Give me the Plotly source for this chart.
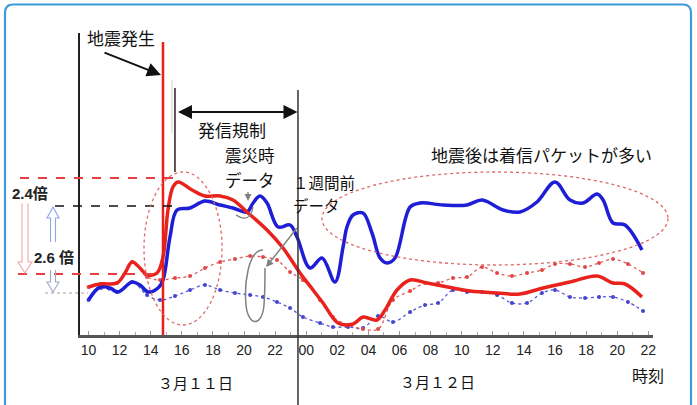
import plotly.graph_objects as go

W, H = 697, 405

# ---------------- data (x = hours since 3/11 00:00, y = relative traffic) ----------------
quake_in_t = [10.0, 10.74, 11.38, 11.90, 12.80, 13.31, 13.83, 14.47, 14.79, 15.24,
              15.69, 16.53, 17.49, 18.46, 19.29, 20.19, 20.58, 21.03, 21.48, 22.19,
              22.96, 23.41, 24.24, 25.02, 25.85, 26.37, 26.62, 27.01, 27.65, 28.23,
              28.75, 29.20, 29.71, 30.68, 31.32, 32.80, 34.34, 35.31, 36.66, 37.75,
              38.84, 40.00, 40.96, 41.80, 42.70, 43.09, 43.73, 44.50, 45.59]
quake_in_v = [35, 48, 47, 43, 53, 50, 43, 47, 55, 98,
              125, 127, 134, 130, 127, 123, 132, 139, 132, 108,
              110, 98, 67, 77, 53, 88, 108, 120, 122, 102,
              77, 72, 77, 128, 132, 130, 130, 135, 125, 123,
              133, 153, 135, 132, 141, 135, 112, 110, 85]

quake_out_t = [10.0, 10.74, 11.83, 12.35, 12.80, 13.31, 13.76, 14.41, 14.79, 15.11,
               15.43, 15.76, 16.66, 17.49, 18.46, 19.29, 20.19, 21.48, 22.51, 23.60,
               24.44, 25.08, 26.05, 27.01, 27.65, 28.55, 29.07, 29.84, 30.68, 31.77,
               33.44, 34.53, 36.27, 37.75, 39.23, 40.96, 42.70, 43.73, 44.50, 45.59]
quake_out_v = [48, 51, 52, 62, 73, 67, 60, 62, 78, 125,
               148, 153, 145, 139, 139, 135, 123, 105, 87, 62,
               45, 32, 12, 11, 18, 15, 25, 45, 55, 52,
               47, 44, 42, 41, 47, 53, 59, 52, 51, 38]

week_t = [10.0, 10.8, 11.83, 12.8, 13.76, 14.60, 15.56, 16.53, 17.49, 18.46,
          19.42, 20.39, 21.22, 22.12, 22.96, 23.79, 24.89, 25.72, 26.69, 27.65,
          28.62, 29.58, 30.68, 31.64, 32.48, 33.44, 34.34, 35.31, 36.27, 37.23,
          38.20, 39.16, 40.00, 40.96, 41.93, 42.83, 43.73, 44.69, 45.66]
week_out_v = [48, 51, 52, 73, 58, 55, 57, 59, 67, 73,
              76, 79, 78, 75, 63, 55, 35, 18, 10, 6,
              6, 35, 44, 52, 52, 57, 58, 68, 62, 59,
              62, 65, 71, 71, 68, 72, 76, 71, 62]
week_in_v = [35, 47, 43, 53, 40, 35, 39, 45, 50, 45,
             42, 40, 38, 33, 27, 18, 12, 8, 8, 7,
             19, 13, 23, 30, 32, 45, 43, 43, 40, 32,
             32, 42, 45, 38, 37, 38, 38, 33, 24]

tick_hours = list(range(10, 47, 2))
tick_text = ["10", "12", "14", "16", "18", "20", "22", "00", "02", "04",
             "06", "08", "10", "12", "14", "16", "18", "20", "22"]

QUAKE_T = 14.79       # earthquake
REG_START_T = 15.56   # start of outgoing-call regulation
REG_END_T = 23.47     # end of regulation

JP = "Noto Sans CJK JP"
NUM = "Liberation Sans, Arial, Noto Sans CJK JP"


def X(px):
    return px / W


def Y(py):
    return 1 - py / H


fig = go.Figure()
fig.add_trace(go.Scatter(x=week_t, y=week_in_v, mode="lines+markers",
                         line=dict(color="#5555D8", width=1.3, dash="dot", shape="spline"),
                         marker=dict(size=4, color="#4444D0")))
fig.add_trace(go.Scatter(x=week_t, y=week_out_v, mode="lines+markers",
                         line=dict(color="#E35A5A", width=1.3, dash="dot", shape="spline"),
                         marker=dict(size=4, color="#E04848")))
fig.add_trace(go.Scatter(x=quake_in_t, y=quake_in_v, mode="lines",
                         line=dict(color="#1E1ED6", width=3.5, shape="spline", smoothing=1.0)))
fig.add_trace(go.Scatter(x=quake_out_t, y=quake_out_v, mode="lines",
                         line=dict(color="#E8221C", width=3.5, shape="spline", smoothing=1.0)))

shapes = []
# outer rounded frame
shapes.append(dict(type="path", xref="paper", yref="paper",
                   path=(f"M {X(5)},{Y(406)} L {X(5)},{Y(13)} Q {X(5)},{Y(4.5)} {X(13)},{Y(4.5)} "
                         f"L {X(683)},{Y(4.5)} Q {X(691)},{Y(4.5)} {X(691)},{Y(13)} L {X(691)},{Y(406)}"),
                   line=dict(color="#3D9BDA", width=2.2)))
# earthquake line
shapes.append(dict(type="line", xref="x", yref="paper", x0=QUAKE_T, x1=QUAKE_T,
                   y0=Y(335), y1=Y(42), line=dict(color="#E8201C", width=2.5)))
shapes.append(dict(type="line", xref="paper", yref="paper", x0=X(172), x1=X(172),
                   y0=Y(80), y1=Y(133), line=dict(color="#F5C4C4", width=1)))
# regulation period lines
shapes.append(dict(type="line", xref="x", yref="paper", x0=REG_START_T, x1=REG_START_T,
                   y0=Y(172), y1=Y(88), line=dict(color="#222", width=1.5)))
shapes.append(dict(type="line", xref="x", yref="paper", x0=REG_END_T, x1=REG_END_T,
                   y0=Y(405), y1=Y(90), line=dict(color="#333", width=1.5)))
# left reference lines
shapes.append(dict(type="line", xref="paper", yref="paper", x0=X(20), x1=X(174), y0=Y(178), y1=Y(178),
                   line=dict(color="#E84040", width=2, dash="dash")))
shapes.append(dict(type="line", xref="paper", yref="paper", x0=X(18), x1=X(160), y0=Y(274), y1=Y(274),
                   line=dict(color="#E84040", width=2, dash="dash")))
shapes.append(dict(type="line", xref="paper", yref="paper", x0=X(55), x1=X(172), y0=Y(206), y1=Y(206),
                   line=dict(color="#111", width=1.4, dash="dash")))
shapes.append(dict(type="line", xref="paper", yref="paper", x0=X(45), x1=X(88), y0=Y(293), y1=Y(293),
                   line=dict(color="#A0A0A0", width=1.2, dash="dot")))
# dashed ellipses
shapes.append(dict(type="circle", xref="paper", yref="paper", x0=X(144), x1=X(222), y0=Y(325), y1=Y(172),
                   line=dict(color="#E06868", width=1.3, dash="dot")))
shapes.append(dict(type="circle", xref="paper", yref="paper", x0=X(322), x1=X(668), y0=Y(265), y1=Y(172),
                   line=dict(color="#E06868", width=1.3, dash="dot")))
# pink hollow double arrow (2.4x)
shapes.append(dict(type="path", xref="paper", yref="paper",
                   path=(f"M {X(22)},{Y(203)} L {X(22)},{Y(262)} L {X(18)},{Y(262)} L {X(25)},{Y(273)} "
                         f"L {X(32)},{Y(262)} L {X(28)},{Y(262)} L {X(28)},{Y(203)}"),
                   line=dict(color="#F2A6A6", width=1.1)))
# blue hollow arrow (2.6x) upper and lower
shapes.append(dict(type="path", xref="paper", yref="paper",
                   path=(f"M {X(50.5)},{Y(242)} L {X(50.5)},{Y(218)} L {X(47)},{Y(218)} L {X(53)},{Y(207)} "
                         f"L {X(59)},{Y(218)} L {X(55.5)},{Y(218)} L {X(55.5)},{Y(242)}"),
                   line=dict(color="#8EA6E6", width=1.1)))
shapes.append(dict(type="path", xref="paper", yref="paper",
                   path=(f"M {X(50.5)},{Y(270)} L {X(50.5)},{Y(282)} L {X(47)},{Y(282)} L {X(53)},{Y(292)} "
                         f"L {X(59)},{Y(282)} L {X(55.5)},{Y(282)} L {X(55.5)},{Y(270)}"),
                   line=dict(color="#A0AAC8", width=1.1)))
# gray loop & hook
shapes.append(dict(type="path", xref="paper", yref="paper",
                   path=(f"M {X(263)},{Y(250)} C {X(248)},{Y(250)} {X(244)},{Y(285)} {X(246)},{Y(305)} "
                         f"C {X(248)},{Y(326)} {X(262)},{Y(328)} {X(264)},{Y(305)} "
                         f"C {X(265)},{Y(292)} {X(265)},{Y(280)} {X(265)},{Y(268)}"),
                   line=dict(color="#808080", width=1.5)))
shapes.append(dict(type="path", xref="paper", yref="paper",
                   path=f"M {X(236)},{Y(215)} Q {X(250)},{Y(224)} {X(253)},{Y(207)}",
                   line=dict(color="#808080", width=1.3)))
# small gray pointer below 震災時 label and pointer from 1週間前 label
shapes.append(dict(type="line", xref="paper", yref="paper", x0=X(248), x1=X(248), y0=Y(192), y1=Y(196),
                   line=dict(color="#808080", width=1.4)))
shapes.append(dict(type="line", xref="paper", yref="paper", x0=X(297), x1=X(270), y0=Y(228), y1=Y(262),
                   line=dict(color="#808080", width=1.5)))

ann = []
ann.append(dict(text="地震発生", x=X(121), y=Y(37.5), font=dict(family=JP, size=17, color="#111")))
ann.append(dict(text="", x=X(161), y=Y(75), ax=-58, ay=-23, showarrow=True,
                arrowhead=2, arrowsize=1.4, arrowwidth=2, arrowcolor="#111"))
ann.append(dict(text="", x=REG_END_T - 0.03, xref="x", y=Y(112), ax=REG_START_T + 0.1, axref="x",
                ay=0, ayref="pixel", showarrow=True, arrowside="end+start", arrowhead=2, startarrowhead=2,
                arrowsize=1.4, startarrowsize=1.4, arrowwidth=2, arrowcolor="#111"))
ann.append(dict(text="発信規制", x=X(232), y=Y(129.5), font=dict(family=JP, size=17, color="#111")))
ann.append(dict(text="震災時", x=X(250), y=Y(155), font=dict(family=JP, size=16.5, color="#111")))
ann.append(dict(text="データ", x=X(250), y=Y(179.5), font=dict(family=JP, size=16.5, color="#111")))
ann.append(dict(text="", x=X(248), y=Y(201), ax=0, ay=-6, showarrow=True, arrowhead=2,
                arrowsize=1, arrowwidth=1.4, arrowcolor="#808080"))
ann.append(dict(text="１週間前", x=X(291), y=Y(182), xanchor="left",
                font=dict(family=JP, size=15.5, color="#111")))
ann.append(dict(text="データ", x=X(291), y=Y(204.5), xanchor="left",
                font=dict(family=JP, size=15.5, color="#111")))
ann.append(dict(text="", x=X(266), y=Y(267), ax=5, ay=-6, showarrow=True, arrowhead=2,
                arrowsize=1, arrowwidth=1.5, arrowcolor="#808080"))
ann.append(dict(text="地震後は着信パケットが多い", x=X(541), y=Y(155),
                font=dict(family=JP, size=17, color="#111")))
ann.append(dict(text="<b>2.4倍</b>", x=X(30), y=Y(193), font=dict(family=NUM, size=15, color="#222"),
                bgcolor="white"))
ann.append(dict(text="<b>2.6 倍</b>", x=X(54), y=Y(257), font=dict(family=NUM, size=15, color="#222")))
ann.append(dict(text="３月１１日", x=X(195), y=Y(382), font=dict(family=JP, size=15, color="#111")))
ann.append(dict(text="３月１２日", x=X(437), y=Y(381), font=dict(family=JP, size=15, color="#111")))
ann.append(dict(text="時刻", x=X(648), y=Y(375), font=dict(family=JP, size=16, color="#111")))
for a in ann:
    a.setdefault("xref", "paper")
    a.setdefault("yref", "paper")
    a.setdefault("showarrow", False)
    a.setdefault("xanchor", "center")
    a.setdefault("yanchor", "middle")

fig.update_layout(
    width=W, height=H,
    margin=dict(l=0, r=0, t=0, b=0),
    paper_bgcolor="white", plot_bgcolor="white",
    showlegend=False,
    shapes=shapes,
    annotations=ann,
    xaxis=dict(domain=[X(80), X(653)], range=[9.453, 46.30], automargin=False,
               tickmode="array", tickvals=tick_hours, ticktext=tick_text,
               ticks="inside", ticklen=4, tickcolor="#999", tickwidth=1,
               minor=dict(tickmode="linear", tick0=10, dtick=1, ticks="inside", ticklen=3,
                          tickcolor="#aaa", showgrid=False),
               showline=True, linecolor="#555", linewidth=2.5,
               showgrid=False, zeroline=False,
               tickfont=dict(family="Liberation Sans, Arial", size=14, color="#222")),
    yaxis=dict(domain=[Y(335), Y(33)], range=[0, 302], automargin=False,
               showticklabels=False, ticks="", showgrid=False, zeroline=False,
               showline=True, linecolor="#222", linewidth=1.5),
)

fig.write_html("out.html")
